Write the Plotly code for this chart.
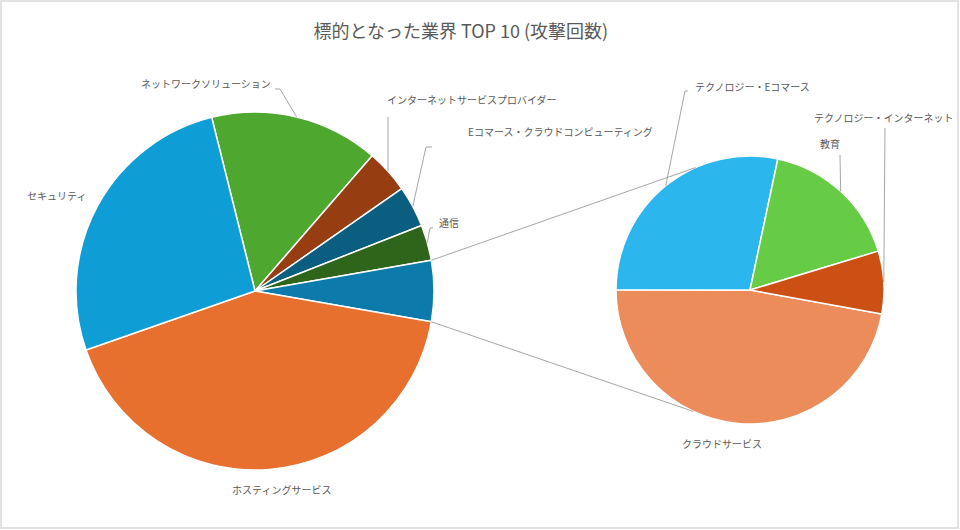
import math
import plotly.graph_objects as go

W, H = 960, 530

# main pie, clockwise starting at ネットワークソリューション
main_labels = ["ネットワークソリューション", "インターネットサービスプロバイダー",
               "Eコマース・クラウドコンピューティング", "通信", "その他",
               "ホスティングサービス", "セキュリティ"]
main_values = [147, 38, 36, 31, 53, 404, 255]
main_colors = ["#4EA72E", "#963D12", "#0B5E80", "#2E651B", "#0C7BAB",
               "#E8702F", "#0F9DD6"]

# second pie (breakdown of その他), clockwise starting at クラウドサービス
sub_labels = ["クラウドサービス", "テクノロジー・Eコマース", "教育", "テクノロジー・インターネット"]
sub_values = [25, 15, 9, 4]
sub_colors = ["#EC8C5A", "#2BB6EE", "#66CB45", "#CC5014"]
sub_rotation = 100.3

TEXT = "#595959"
FONT = "Noto Sans CJK JP"

# pie geometry in pixels
main_c, main_r = (255, 291), 179
sub_c, sub_r = (750, 290), 134


def px(x):
    return x / W


def py(y):
    return 1 - y / H


def domain(c, r):
    return dict(x=[px(c[0] - r), px(c[0] + r)], y=[py(c[1] + r), py(c[1] - r)])


def edge(c, r, ang):
    a = math.radians(ang)
    return c[0] + r * math.sin(a), c[1] - r * math.cos(a)


# rotate main pie so the その他 slice is centred on the right
tot = sum(main_values)
oi = main_labels.index("その他")
before = sum(main_values[:oi])
main_rotation = 90 - (before + main_values[oi] / 2) * 360 / tot

starts = []
acc = main_rotation
for v in main_values:
    starts.append(acc)
    acc += v * 360 / tot
main_mid = [s + v * 180 / tot for s, v in zip(starts, main_values)]

stot = sum(sub_values)
sub_mid = []
acc = sub_rotation
for v in sub_values:
    sub_mid.append(acc + v * 180 / stot)
    acc += v * 360 / stot

fig = go.Figure()
fig.add_trace(go.Pie(
    labels=main_labels, values=main_values, sort=False, direction="clockwise",
    rotation=main_rotation, textinfo="none", hoverinfo="label+value",
    marker=dict(colors=main_colors, line=dict(color="white", width=1.5)),
    domain=domain(main_c, main_r), showlegend=False,
))
fig.add_trace(go.Pie(
    labels=sub_labels, values=sub_values, sort=False, direction="clockwise",
    rotation=sub_rotation, textinfo="none", hoverinfo="label+value",
    marker=dict(colors=sub_colors, line=dict(color="white", width=1.5)),
    domain=domain(sub_c, sub_r), showlegend=False,
))

shapes = []


def line_path(pts):
    d = "M " + " L ".join(f"{px(x):.5f},{py(y):.5f}" for x, y in pts)
    shapes.append(dict(type="path", path=d, xref="paper", yref="paper",
                       line=dict(color="#A6A6A6", width=1)))


# connector lines between the pies
o_start = starts[oi]
o_end = starts[oi] + main_values[oi] * 360 / tot
line_path([edge(main_c, main_r, o_start), edge(sub_c, sub_r, -24)])
line_path([edge(main_c, main_r, o_end), edge(sub_c, sub_r, 205)])

# leader lines
line_path([(275, 89), (280, 89), edge(main_c, main_r, main_mid[0])])
line_path([(388, 117), edge(main_c, main_r, main_mid[1])])
line_path([(432, 147), (426, 147), edge(main_c, main_r, main_mid[2])])
line_path([(433, 228), (430, 228), edge(main_c, main_r, main_mid[3])])
line_path([(688, 91), (685, 91), edge(sub_c, sub_r, sub_mid[1])])
line_path([(840, 155), edge(sub_c, sub_r, sub_mid[2])])
line_path([(885, 128), edge(sub_c, sub_r, sub_mid[3])])

# chart frame
shapes.append(dict(type="rect", xref="paper", yref="paper", x0=px(1), x1=px(958),
                   y0=py(528), y1=py(1), line=dict(color="#D9D9D9", width=1.5)))

annotations = []


def label(text, x, y, anchor):
    annotations.append(dict(text=text, x=px(x), y=py(y), xref="paper", yref="paper",
                            xanchor=anchor, yanchor="middle", showarrow=False,
                            font=dict(size=10, color=TEXT, family=FONT)))


label(main_labels[0], 273, 84, "right")
label(main_labels[1], 385, 100, "left")
label(main_labels[2], 466, 132, "left")
label(main_labels[3], 437, 222, "left")
label(main_labels[5], 281, 489, "center")
label(main_labels[6], 56, 195, "center")
label(sub_labels[0], 722, 443, "center")
label(sub_labels[1], 693, 87, "left")
label(sub_labels[2], 830, 144, "center")
label(sub_labels[3], 955, 117, "right")

fig.update_layout(
    width=W, height=H,
    margin=dict(l=0, r=0, t=0, b=0),
    paper_bgcolor="white",
    title=dict(text="標的となった業界 TOP 10 (攻撃回数)", x=0.48, xanchor="center",
               y=py(32), yanchor="middle",
               font=dict(size=18, color=TEXT, family=FONT)),
    shapes=shapes,
    annotations=annotations,
)

# drop the default page margin so the figure sits at the window origin
fig.write_html("out.html", config={"displayModeBar": False},
               post_script="document.body.style.margin='0';")
